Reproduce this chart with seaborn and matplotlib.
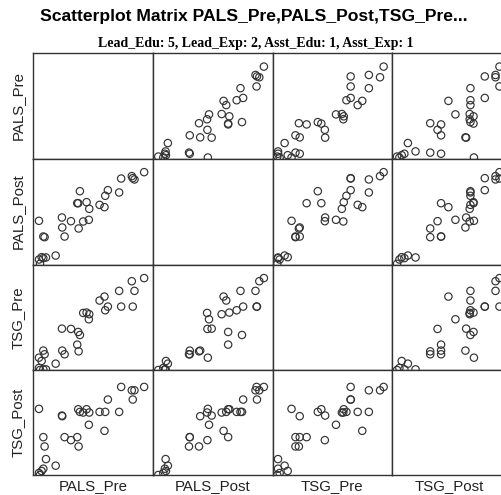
import matplotlib
matplotlib.use("Agg")
import matplotlib.pyplot as plt
import seaborn as sns
import pandas as pd

# ---- data (one entry per case) ----
PALS_Pre = [100, 88.4, 90.9, 89.3, 78.4, 76.5, 65.9, 63.4, 62.7, 58.1, 48.4, 48.0, 45.9, 42.7, 39.6, 38.0,
            37.1, 38.4, 31.2, 25.2, 22.7, 23.0, 16.8, 7.7, 5.2, 6.4, 5.2, 1.1, 1.1, 3.6, 2.1]
PALS_Post = [100, 95.7, 92.1, 93.5, 93.1, 78.0, 80.5, 74.4, 62.1, 64.6, 60.3, 48.4, 67.5, 46.6, 79.4, 66.4,
             66.4, 39.0, 46.9, 30.3, 50.9, 40.1, 9.7, 7.6, 30.3, 29.6, 6.9, 47.3, 5.4, 7.9, 0.7]
TSG_Pre = [100, 96.6, 86.1, 69.0, 69.0, 86.1, 69.0, 65.0, 79.9, 75.6, 60.7, 55.2, 62.5, 62.1, 38.1, 41.4,
           27.6, 20.3, 44.7, 17.1, 45.0, 21.1, 6.9, 0.7, 21.1, 17.1, 0.7, 13.4, 2.2, 9.8, 0.0]
TSG_Post = [96.3, 92.6, 92.6, 82.5, 96.3, 69.0, 82.5, 69.0, 48.3, 69.0, 68.3, 54.9, 71.9, 68.3, 69.0, 71.9,
            41.4, 31.2, 38.1, 41.4, 65.0, 64.3, 10.2, 17.4, 41.4, 31.2, 6.9, 72.3, 2.2, 4.4, 0.0]

variables = ["PALS_Pre", "PALS_Post", "TSG_Pre", "TSG_Post"]
title = "Scatterplot Matrix PALS_Pre,PALS_Post,TSG_Pre..."
subtitle = "Lead_Edu: 5, Lead_Exp: 2, Asst_Edu: 1, Asst_Exp: 1"

df = pd.DataFrame({"PALS_Pre": PALS_Pre, "PALS_Post": PALS_Post,
                   "TSG_Pre": TSG_Pre, "TSG_Post": TSG_Post})

sns.set_theme(style="white")
plt.rcParams['font.family'] = ['Liberation Sans', 'DejaVu Sans']

W, H = 501, 495
fig = plt.figure(figsize=(W / 100, H / 100), dpi=100)
fig.patch.set_facecolor("white")

col_edges = [33, 152.75, 272.5, 392.25, 512]
row_edges = [53, 158.5, 264.5, 370, 475]
XLIM = (-4.5, 108.1)
YLIM = (0, 114.8)
line_col = "#333333"

for i, yv in enumerate(variables):
    for j, xv in enumerate(variables):
        l, r = col_edges[j], col_edges[j + 1]
        t, b = row_edges[i], row_edges[i + 1]
        ax = fig.add_axes([l / W, 1 - b / H, (r - l) / W, (b - t) / H])
        if i != j:
            sns.scatterplot(data=df, x=xv, y=yv, ax=ax, marker='o', s=28,
                            facecolors='none', edgecolor=line_col, linewidth=0.85,
                            legend=False)
        ax.set_xlim(XLIM)
        ax.set_ylim(YLIM)
        ax.set_xticks([])
        ax.set_yticks([])
        ax.set_xlabel('')
        ax.set_ylabel('')
        ax.set_facecolor("white")
        for sp in ax.spines.values():
            sp.set_visible(True)
            sp.set_color(line_col)
            sp.set_linewidth(1.0)

fig.text(254 / W, 1 - 17 / H, title, ha='center', va='center',
         fontsize=12.6, fontweight='bold', color='black')
fig.text(256 / W, 1 - 44 / H, subtitle, ha='center', va='center',
         fontsize=10, fontweight='bold', family=['Liberation Serif', 'DejaVu Serif'], color='black')

for k, v in enumerate(variables):
    cy = (row_edges[k] + row_edges[k + 1]) / 2
    fig.text(18 / W, 1 - cy / H, v, rotation=90, ha='center', va='center',
             fontsize=10.8, color='#222222')
    cx = (col_edges[k] + col_edges[k + 1]) / 2
    if k == 3:
        cx = 449
    fig.text(cx / W, 1 - 486 / H, v, ha='center', va='center',
             fontsize=10.8, color='#222222')

fig.savefig("out.png", dpi=100)
